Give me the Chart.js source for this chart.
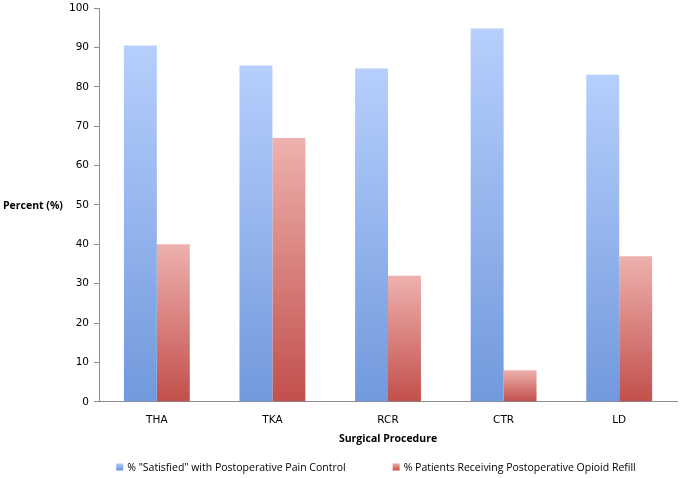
<!DOCTYPE html>
<html>
<head>
<meta charset="utf-8">
<script src="https://cdn.jsdelivr.net/npm/chart.js@4/dist/chart.umd.min.js"></script>
<style>
  html, body { margin: 0; padding: 0; background: #fff; }
  #wrap { width: 680px; height: 478px; }
</style>
</head>
<body>
<div id="wrap"><canvas id="chart"></canvas></div>
<script>
const procedures = ['THA', 'TKA', 'RCR', 'CTR', 'LD'];
const satisfied = [90.5, 85.4, 84.7, 94.8, 83.1];
const opioidRefill = [40, 67, 32, 8, 37];
const yTicks = [0, 10, 20, 30, 40, 50, 60, 70, 80, 90, 100];

const TICK_FONT = '"DejaVu Sans", sans-serif';
const TEXT_FONT = '"Open Sans", sans-serif';

const blues = ['#b6cffc', '#7199dd'];
const reds = ['#eeb1ae', '#c24f4b'];

// each bar gets its own top-to-bottom gradient, like the original
function barGradient(light, dark) {
  return ctx => {
    const chart = ctx.chart;
    if (!chart.chartArea || ctx.type !== 'data') return dark;
    const y = chart.scales.y;
    const top = y.getPixelForValue(ctx.raw);
    const base = y.getPixelForValue(0);
    if (!isFinite(top) || top === base) return dark;
    const g = chart.ctx.createLinearGradient(0, top, 0, base);
    g.addColorStop(0, light);
    g.addColorStop(1, dark);
    return g;
  };
}

// horizontal "Percent (%)" title on the left and the bottom legend
const extras = {
  id: 'extras',
  afterDraw(chart) {
    const c = chart.ctx;
    c.save();
    c.fillStyle = '#000';
    c.textBaseline = 'middle';
    c.textAlign = 'left';
    c.font = 'bold 10.5px ' + TEXT_FONT;
    c.fillText('Percent (%)', 3, chart.scales.y.getPixelForValue(50) + 1);

    c.font = '10.5px ' + TEXT_FONT;
    const box = 7, gap = 4, spacing = 47;
    const items = chart.data.datasets.map((ds, i) => ({
      text: ds.label,
      cols: i === 0 ? ['#a6c2f7', '#5f8ad6'] : ['#e89d99', '#c0453f'],
      w: c.measureText(ds.label).width
    }));
    const total = items.reduce((s, it) => s + box + gap + it.w, 0) + spacing * (items.length - 1);
    let x = 376 - total / 2;
    const y = chart.height - 10;
    items.forEach(it => {
      const g = c.createLinearGradient(0, y - box / 2, 0, y + box / 2);
      g.addColorStop(0, it.cols[0]);
      g.addColorStop(1, it.cols[1]);
      c.fillStyle = g;
      c.fillRect(x, y - box / 2 - 1, box, box);
      c.fillStyle = '#000';
      c.fillText(it.text, x + box + gap, y);
      x += box + gap + it.w + spacing;
    });
    c.restore();
  }
};

new Chart(document.getElementById('chart'), {
  type: 'bar',
  data: {
    labels: procedures,
    datasets: [
      {
        label: '% "Satisfied" with Postoperative Pain Control',
        data: satisfied,
        backgroundColor: barGradient(blues[0], blues[1]),
        borderWidth: 0
      },
      {
        label: '% Patients Receiving Postoperative Opioid Refill',
        data: opioidRefill,
        backgroundColor: barGradient(reds[0], reds[1]),
        borderWidth: 0
      }
    ]
  },
  options: {
    responsive: true,
    maintainAspectRatio: false,
    animation: false,
    layout: { padding: { left: 64, right: 3, top: 0, bottom: 33 } },
    datasets: {
      bar: { categoryPercentage: 0.57, barPercentage: 1.0 }
    },
    plugins: {
      tooltip: { enabled: false },
      legend: { display: false }
    },
    scales: {
      x: {
        grid: { display: false, drawTicks: false },
        border: { color: '#8c8c8c', width: 1 },
        ticks: { font: { family: TICK_FONT, size: 10.5 }, color: '#000', padding: 12 },
        title: {
          display: true,
          text: 'Surgical Procedure',
          font: { family: TEXT_FONT, size: 10.5, weight: 'bold' },
          color: '#000',
          padding: { top: -6, bottom: 0 }
        }
      },
      y: {
        min: 0,
        max: 100,
        afterBuildTicks(axis) {
          axis.ticks = yTicks.map(v => ({ value: v }));
        },
        grid: {
          display: true,
          drawOnChartArea: false,
          drawTicks: true,
          tickLength: 5,
          color: '#8c8c8c'
        },
        border: { color: '#8c8c8c', width: 1 },
        ticks: { font: { family: TICK_FONT, size: 10.5, lineHeight: 0.6 }, color: '#000', padding: 5 }
      }
    }
  },
  plugins: [extras]
});
</script>
</body>
</html>
